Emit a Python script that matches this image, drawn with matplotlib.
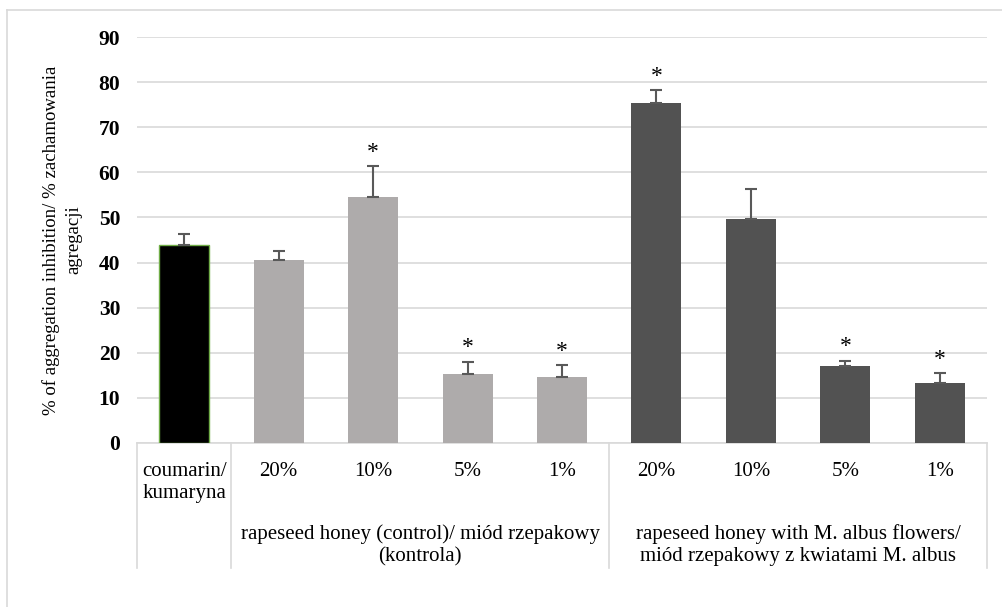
import numpy as np
import matplotlib.pyplot as plt
from matplotlib.lines import Line2D

plt.rcParams['font.family'] = ['Liberation Serif', 'DejaVu Serif']

# Data
labels = ['coumarin/\nkumaryna', '20%', '10%', '5%', '1%', '20%', '10%', '5%', '1%']
values = [43.8, 40.6, 54.6, 15.3, 14.6, 75.3, 49.7, 17.0, 13.3]
errors = [2.5, 2.0, 6.7, 2.7, 2.6, 2.9, 6.6, 1.2, 2.2]
signif = [False, False, True, True, True, True, False, True, True]
groups = ['rapeseed honey (control)/ miód rzepakowy\n(kontrola)',
          'rapeseed honey with M. albus flowers/\nmiód rzepakowy z kwiatami M. albus']
group_spans = [(1, 4), (5, 8)]
colors = ['#000000'] + ['#AEABAB'] * 4 + ['#525252'] * 4
edges = ['#70AD47'] + ['none'] * 8

fig = plt.figure(figsize=(10.03, 6.07), dpi=100)
ax = fig.add_axes([0.1366, 0.2702, 0.8474, 0.6688])

x = np.arange(len(values))
ax.bar(x, values, width=0.53, color=colors, edgecolor=edges, linewidth=1, zorder=3)
ax.errorbar(x, values, yerr=[np.zeros(len(errors)), errors], fmt='none',
            ecolor='#595959', elinewidth=1.5, capsize=4.5, capthick=1.5, zorder=4)

for xi, v, e, s in zip(x, values, errors, signif):
    if s:
        ax.annotate('*', (xi, v + e), xytext=(0, 2.5), textcoords='offset points',
                    ha='center', va='bottom', fontsize=17, color='#000000')

ax.set_xlim(-0.5, len(values) - 0.5)
ax.set_ylim(0, 90)
ax.set_yticks(np.arange(0, 91, 10))
ax.set_yticklabels([str(t) for t in range(0, 91, 10)], fontsize=15.5, fontweight='bold')
ax.tick_params(axis='y', length=0, pad=12)
ax.tick_params(axis='x', length=0, labelbottom=False)
ax.yaxis.grid(True, color='#D9D9D9', linewidth=1.2, zorder=0)
ax.set_axisbelow(True)
for sp in ['top', 'right', 'left']:
    ax.spines[sp].set_visible(False)
ax.spines['bottom'].set_color('#D9D9D9')
ax.spines['bottom'].set_linewidth(1.2)

ax.set_ylabel('% of aggregation inhibition/ % zachamowania\nagregacji',
              fontsize=13.5, labelpad=12, linespacing=1.35)

# category labels and table lines below the axis
trans = ax.get_xaxis_transform()
for xi, lab in zip(x, labels):
    ax.text(xi, -0.047, lab, transform=trans, ha='center', va='top', fontsize=15,
            linespacing=1.2)
for (a, b), g in zip(group_spans, groups):
    ax.text((a + b) / 2, -0.2, g, transform=trans, ha='center', va='top', fontsize=15,
            linespacing=1.2)
for xs in [-0.5, 0.5, 4.5, 8.5]:
    ax.add_line(Line2D([xs, xs], [0, -0.308], transform=trans, color='#D9D9D9',
                       linewidth=1.2, clip_on=False))

# outer chart border
fig.add_artist(Line2D([7 / 1003, 7 / 1003], [0, 1 - 10 / 607], color='#D9D9D9', linewidth=1.2))
fig.add_artist(Line2D([7 / 1003, 1], [1 - 10 / 607, 1 - 10 / 607], color='#D9D9D9', linewidth=1.2))

fig.savefig('out.png', dpi=100)
